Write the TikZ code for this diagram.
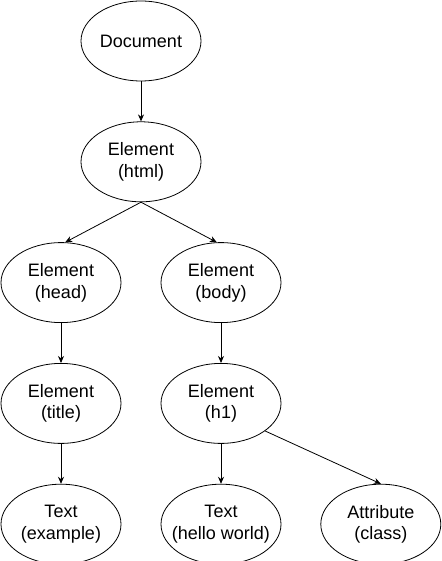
\documentclass[tikz,border=0pt]{standalone}
\usepackage{fontspec}
\setmainfont{Liberation Sans}
\usetikzlibrary{positioning, shapes, arrows.meta}

\tikzset{obj/.style={ellipse, draw, minimum width=120pt, minimum height=80pt, inner ysep=0pt,
    inner xsep=-8pt, align=center, font=\fontsize{18}{21.6}\selectfont}}

\begin{document}
\begin{tikzpicture}[>={Stealth[length=7pt,width=6pt]}, line width=0.8pt, node distance=40pt]
\useasboundingbox (0,0) rectangle (441pt,-561pt);
\node[obj](doc) at (141pt,-41pt) {Document};
\node[obj, below=of doc] (html) {Element\\(html)};
\node[obj, below=of html, xshift=-80pt] (head) {Element\\(head)};
\node[obj, below=of html, xshift=80pt] (body) {Element\\(body)};
\node[obj, below=of head] (title) {Element\\(title)};
\node[obj, below=of body] (h1) {Element\\(h1)};
\node[obj, below=of title] (ex) {Text\\(example)};
\node[obj, below=of h1] (hello) {Text\\(hello world)};
\node[obj, right=39pt of hello] (attr) {Attribute\\(class)};
\draw	(doc) edge[->] (html)
		(html.south) edge[->] (head.84)
		(html.south) edge[->] (body.96)
		(head) edge[->] (title)
		(body) edge[->] (h1)
		(title) edge[->] (ex)
		(h1) edge[->] (hello)
		(h1.-32.5) edge[->] (attr.north);

\end{tikzpicture}
\end{document}
